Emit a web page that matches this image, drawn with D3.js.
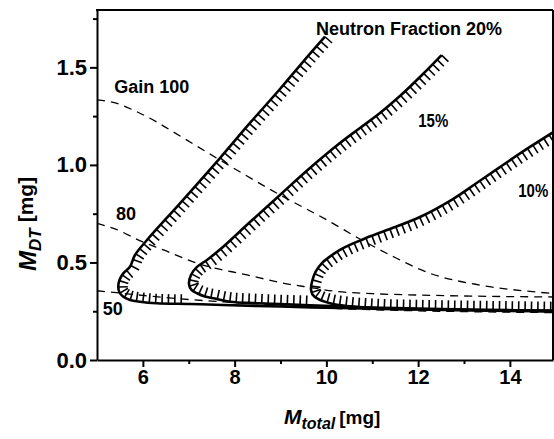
<!DOCTYPE html>
<html><head><meta charset="utf-8">
<script src="https://cdn.jsdelivr.net/npm/d3@7"></script>
<style>body{margin:0;background:#fff} svg{display:block}</style>
</head><body>
<svg id="c" width="554" height="439"></svg>
<script>
// ---- tick values ----
const xTickValues = [6, 8, 10, 12, 14];
const xMinorTicks = [7, 9, 11, 13];
const yTickValues = [0, 0.5, 1.0, 1.5];
const yTickLabels = ["0.0", "0.5", "1.0", "1.5"];
const yMinorTicks = [0.25, 0.75, 1.25, 1.75];

// ---- gain contours (dashed) ----
const gain100X = [5.0, 5.4, 5.79, 6.3, 6.81, 7.68, 8.99, 10.01, 10.77, 11.39, 12.26, 13.35, 14.5, 14.94];
const gain100Y = [1.333, 1.318, 1.281, 1.22, 1.148, 1.025, 0.846, 0.718, 0.615, 0.538, 0.444, 0.384, 0.350, 0.341];
const gain80X = [5.0, 5.36, 6.0, 6.45, 7.18, 8.27, 9.2, 9.64, 10.2, 11.0, 12.0, 13.0, 14.0, 14.94];
const gain80Y = [0.700, 0.675, 0.605, 0.564, 0.496, 0.436, 0.388, 0.372, 0.352, 0.340, 0.333, 0.328, 0.325, 0.323];
const gain50X = [5.0, 5.5, 6.0, 6.5, 7.0, 7.5, 8.0, 9.0, 10.0, 11.0, 12.0, 13.0, 14.0, 14.94];
const gain50Y = [0.355, 0.343, 0.331, 0.320, 0.310, 0.302, 0.295, 0.282, 0.266, 0.258, 0.252, 0.248, 0.245, 0.243];

// ---- neutron fraction contours (solid, hatched) ----
const nf20X = [9.969, 9.468, 8.989, 8.335, 7.681, 6.809, 6.090, 5.828, 5.719, 5.573, 5.490, 5.464, 5.490, 5.573, 5.719, 5.937, 6.301, 7.027, 7.746, 9.0, 10.0, 11.0, 12.0, 13.0, 14.0, 15.0];
const nf20Y = [1.657, 1.522, 1.389, 1.215, 1.035, 0.803, 0.615, 0.538, 0.478, 0.444, 0.410, 0.374, 0.346, 0.324, 0.308, 0.299, 0.291, 0.287, 0.282, 0.274, 0.268, 0.263, 0.259, 0.255, 0.252, 0.249];
const nf15X = [12.511, 12.084, 11.604, 11.168, 10.732, 10.296, 9.642, 8.989, 8.335, 7.681, 7.398, 7.180, 7.049, 7.005, 7.060, 7.180, 7.354, 7.535, 7.899, 8.5, 9.64, 10.5, 11.5, 12.5, 13.5, 15.0];
const nf15Y = [1.563, 1.461, 1.353, 1.266, 1.189, 1.112, 0.984, 0.846, 0.707, 0.566, 0.513, 0.477, 0.436, 0.390, 0.359, 0.342, 0.325, 0.316, 0.299, 0.291, 0.281, 0.273, 0.266, 0.261, 0.257, 0.253];
const nf10X = [15.091, 14.437, 13.783, 13.276, 12.759, 12.040, 11.321, 10.841, 10.558, 10.296, 10.078, 9.904, 9.773, 9.697, 9.664, 9.697, 9.817, 10.078, 10.442, 11.168, 12.0, 13.0, 14.0, 15.09];
const nf10Y = [1.189, 1.092, 0.989, 0.907, 0.825, 0.733, 0.666, 0.623, 0.595, 0.564, 0.530, 0.497, 0.456, 0.410, 0.364, 0.336, 0.313, 0.291, 0.277, 0.265, 0.260, 0.256, 0.253, 0.250];
// lower-branch hatching limit (x value)
const hatchLimits = [6.95, 9.6, 16];

// ---- labels ----
const labelTexts = ["Neutron Fraction 20%", "15%", "10%", "Gain 100", "80", "50"];
const labelX = [9.773, 12.003, 14.183, 5.377, 5.414, 5.124];
const labelY = [1.666, 1.196, 0.837, 1.370, 0.718, 0.231];

// ---- layout ----
const svg = d3.select("#c");
const FONT = "'Liberation Sans', Arial, sans-serif";
const x = d3.scaleLinear().domain([5, 14.94]).range([97, 553]);
const y = d3.scaleLinear().domain([0, 1.794]).range([360, 10]);

svg.append("defs").append("clipPath").attr("id", "clip")
  .append("rect").attr("x", 97).attr("y", 10).attr("width", 456).attr("height", 350);

const plot = svg.append("g").attr("clip-path", "url(#clip)");

// dashed gain lines
const fLine = d3.line().x(d => x(d[0])).y(d => y(d[1])).curve(d3.curveMonotoneX);
[[gain100X, gain100Y], [gain80X, gain80Y], [gain50X, gain50Y]].forEach(([xs, ys]) => {
  plot.append("path").attr("d", fLine(xs.map((v, i) => [v, ys[i]])))
    .attr("fill", "none").attr("stroke", "#000").attr("stroke-width", 1.3)
    .attr("stroke-dasharray", "8,6");
});

// hatched contours
const pLine = d3.line().x(d => x(d[0])).y(d => y(d[1])).curve(d3.curveCatmullRom.alpha(0.5));
[[nf20X, nf20Y], [nf15X, nf15Y], [nf10X, nf10Y]].forEach(([xs, ys], k) => {
  const path = plot.append("path").attr("d", pLine(xs.map((v, i) => [v, ys[i]])))
    .attr("fill", "none").attr("stroke", "#000").attr("stroke-width", 2.6);
  const node = path.node();
  const L = node.getTotalLength();
  const step = 6.4, len = 9.5;
  let prevX = Infinity, passedNose = false;
  for (let s = 0; s <= L; s += step) {
    const p = node.getPointAtLength(s);
    if (p.x > prevX + 0.3) passedNose = true;
    prevX = Math.min(prevX, p.x);
    if (passedNose && x.invert(p.x) > hatchLimits[k]) continue;
    const a = node.getPointAtLength(Math.max(0, s - 1.5));
    const b = node.getPointAtLength(Math.min(L, s + 1.5));
    let dx = b.x - a.x, dy = b.y - a.y;
    const n = Math.hypot(dx, dy) || 1; dx /= n; dy /= n;
    const nx = dy, ny = -dx;
    plot.append("line").attr("x1", p.x).attr("y1", p.y)
      .attr("x2", p.x + nx * len).attr("y2", p.y + ny * len)
      .attr("stroke", "#000").attr("stroke-width", 1.6);
  }
});

// frame top/right
svg.append("line").attr("x1", 96).attr("x2", 553).attr("y1", 10).attr("y2", 10).attr("stroke", "#000").attr("stroke-width", 2);
svg.append("line").attr("x1", 553).attr("x2", 553).attr("y1", 10).attr("y2", 360).attr("stroke", "#000").attr("stroke-width", 2);

// axes
const xAxis = svg.append("g").attr("transform", "translate(0,360)")
  .call(d3.axisBottom(x).tickValues(xTickValues).tickSize(7).tickSizeOuter(0).tickPadding(3).tickFormat(d3.format("d")));
const xMinor = svg.append("g").attr("transform", "translate(0,360)")
  .call(d3.axisBottom(x).tickValues(xMinorTicks).tickSize(4).tickSizeOuter(0).tickFormat(""));
const yAxis = svg.append("g").attr("transform", "translate(97,0)")
  .call(d3.axisLeft(y).tickValues(yTickValues).tickSize(7).tickSizeOuter(0).tickPadding(3).tickFormat((d, i) => yTickLabels[i]));
const yMinor = svg.append("g").attr("transform", "translate(97,0)")
  .call(d3.axisLeft(y).tickValues(yMinorTicks).tickSize(4).tickSizeOuter(0).tickFormat(""));
[xAxis, xMinor, yAxis, yMinor].forEach(g => {
  g.select(".domain").attr("stroke-width", 2);
  g.selectAll(".tick line").attr("stroke-width", 2);
});
xMinor.select(".domain").remove(); yMinor.select(".domain").remove();
xAxis.selectAll("text").attr("font-family", FONT).attr("font-weight", "bold").attr("font-size", 20).attr("fill", "#000");
yAxis.selectAll("text").attr("font-family", FONT).attr("font-weight", "bold").attr("font-size", 22).attr("fill", "#000");

// labels
labelTexts.forEach((t, i) => {
  const el = svg.append("text").attr("x", x(labelX[i])).attr("y", y(labelY[i]))
    .attr("font-family", FONT).attr("font-weight", "bold").attr("font-size", 18).text(t);
  if (t.endsWith("%") && t.length <= 3) el.attr("textLength", 30).attr("lengthAdjust", "spacingAndGlyphs");
});

// axis titles
const xt = svg.append("text").attr("x", 284).attr("y", 424).attr("font-family", FONT).attr("font-weight", "bold");
xt.append("tspan").attr("font-style", "italic").attr("font-size", 21).text("M");
xt.append("tspan").attr("font-style", "italic").attr("font-size", 16).attr("dy", 5).text("total");
xt.append("tspan").attr("font-size", 19).attr("dy", -5).attr("dx", 4).text("[mg]");

const yt = svg.append("text").attr("transform", "translate(36,271) rotate(-90)").attr("font-family", FONT).attr("font-weight", "bold");
yt.append("tspan").attr("font-style", "italic").attr("font-size", 24).text("M");
yt.append("tspan").attr("font-style", "italic").attr("font-size", 17).attr("dy", 5).text("DT");
yt.append("tspan").attr("font-size", 21).attr("dy", -8).attr("dx", 6).text("[mg]");
</script>
</body></html>
